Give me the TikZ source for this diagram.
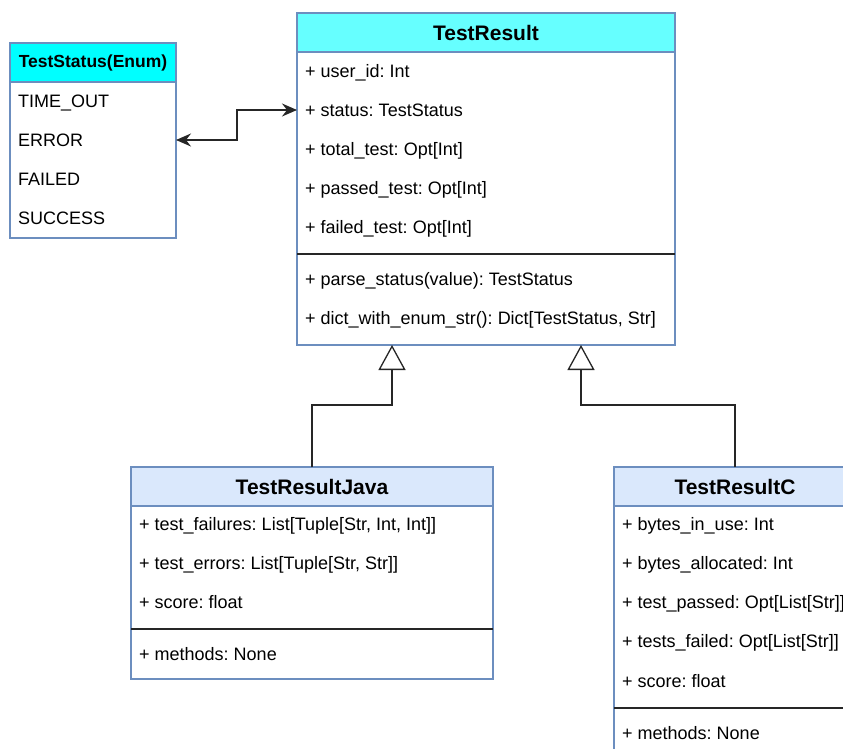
\documentclass[tikz,border=0pt]{standalone}
\usepackage{fontspec}
\setmainfont{Liberation Sans}
\usetikzlibrary{arrows.meta}
\definecolor{umlborder}{HTML}{6C8EBF}
\definecolor{umlhead}{HTML}{DAE8FC}
\definecolor{enumhead}{HTML}{00FFFF}
\definecolor{mainhead}{HTML}{66FFFF}
\frenchspacing
\begin{document}
\begin{tikzpicture}[x=1pt,y=-1pt,
  classbox/.style={draw=umlborder, line width=1.2pt, fill=white, anchor=north west, inner sep=0pt, outer sep=0pt},
  headbox/.style={draw=umlborder, line width=1.2pt, anchor=north west, inner sep=0pt, outer sep=0pt, minimum height=39pt, font=\fontsize{21}{24}\selectfont\bfseries},
  item/.style={anchor=west, inner sep=0pt, text height=13pt, text depth=0pt, font=\fontsize{18}{21}\selectfont},
  divider/.style={draw=black!85, line width=1.2pt},
  link/.style={draw=black!85, line width=1.5pt},
  inherit/.style={link, -{Triangle[open, length=25pt, width=27pt, line width=1.3pt]}},
  assoc/.style={link, {Stealth[length=15pt, width=13pt, inset=5pt]}-{Stealth[length=15pt, width=13pt, inset=5pt]}}
]
\clip (0,0) rectangle (843,749);
\fill[white] (0,0) rectangle (843,749);

% ---- TestStatus enumeration ----
\node[classbox, minimum width=166pt, minimum height=195pt] (ts) at (10,43) {};
\node[headbox, fill=enumhead, minimum width=166pt, font=\fontsize{17.5}{20}\selectfont\bfseries] (tsh) at (10,43) {TestStatus(Enum)};
\node[item] (ts1) at (18,101) {TIME\_OUT};
\node[item] (ts2) at (18,140) {ERROR};
\node[item] (ts3) at (18,179) {FAILED};
\node[item] (ts4) at (18,218) {SUCCESS};

% ---- TestResult ----
\node[classbox, minimum width=378pt, minimum height=332pt] (tr) at (297,13) {};
\node[headbox, fill=mainhead, minimum width=378pt] (trh) at (297,13) {TestResult};
\node[item] (tr1) at (305,71) {+ user\_id: Int};
\node[item] (tr2) at (305,110) {+ status: TestStatus};
\node[item] (tr3) at (305,149) {+ total\_test: Opt[Int]};
\node[item] (tr4) at (305,188) {+ passed\_test: Opt[Int]};
\node[item] (tr5) at (305,227) {+ failed\_test: Opt[Int]};
\coordinate (trdl) at (297,254);
\coordinate (trdr) at (675,254);
\draw[divider] (trdl) -- (trdr);
\node[item] (tr6) at (305,279) {+ parse\_status(value): TestStatus};
\node[item] (tr7) at (305,318) {+ dict\_with\_enum\_str(): Dict[TestStatus, Str]};

% ---- TestResultJava ----
\node[classbox, minimum width=362pt, minimum height=212pt] (tj) at (131,467) {};
\node[headbox, fill=umlhead, minimum width=362pt] (tjh) at (131,467) {TestResultJava};
\node[item] (tj1) at (139,524) {+ test\_failures: List[Tuple[Str, Int, Int]]};
\node[item] (tj2) at (139,563) {+ test\_errors: List[Tuple[Str, Str]]};
\node[item] (tj3) at (139,602) {+ score: float};
\coordinate (tjdl) at (131,629);
\coordinate (tjdr) at (493,629);
\draw[divider] (tjdl) -- (tjdr);
\node[item] (tj4) at (139,654) {+ methods: None};

% ---- TestResultC ----
\node[classbox, minimum width=242pt, minimum height=320pt] (tc) at (614,467) {};
\node[headbox, fill=umlhead, minimum width=242pt] (tch) at (614,467) {TestResultC};
\node[item] (tc1) at (622,524) {+ bytes\_in\_use: Int};
\node[item] (tc2) at (622,563) {+ bytes\_allocated: Int};
\node[item] (tc3) at (622,602) {+ test\_passed: Opt[List[Str]]};
\node[item] (tc4) at (622,641) {+ tests\_failed: Opt[List[Str]]};
\node[item] (tc5) at (622,681) {+ score: float};
\coordinate (tcdl) at (614,708);
\coordinate (tcdr) at (856,708);
\draw[divider] (tcdl) -- (tcdr);
\node[item] (tc6) at (622,733) {+ methods: None};

% ---- association between TestStatus and TestResult.status ----
\coordinate (bend) at (237,140);
\draw[assoc] (ts.east |- ts2.west) -- (bend) |- (tr2.west -| tr.west);

% ---- generalisation arrows ----
\coordinate (jl) at (392,345);
\coordinate (cl) at (581,345);
\draw[inherit] (tjh.north) -- ++(0,-62) -| (jl);
\draw[inherit] (tch.north) -- ++(0,-62) -| (cl);
\end{tikzpicture}
\end{document}
